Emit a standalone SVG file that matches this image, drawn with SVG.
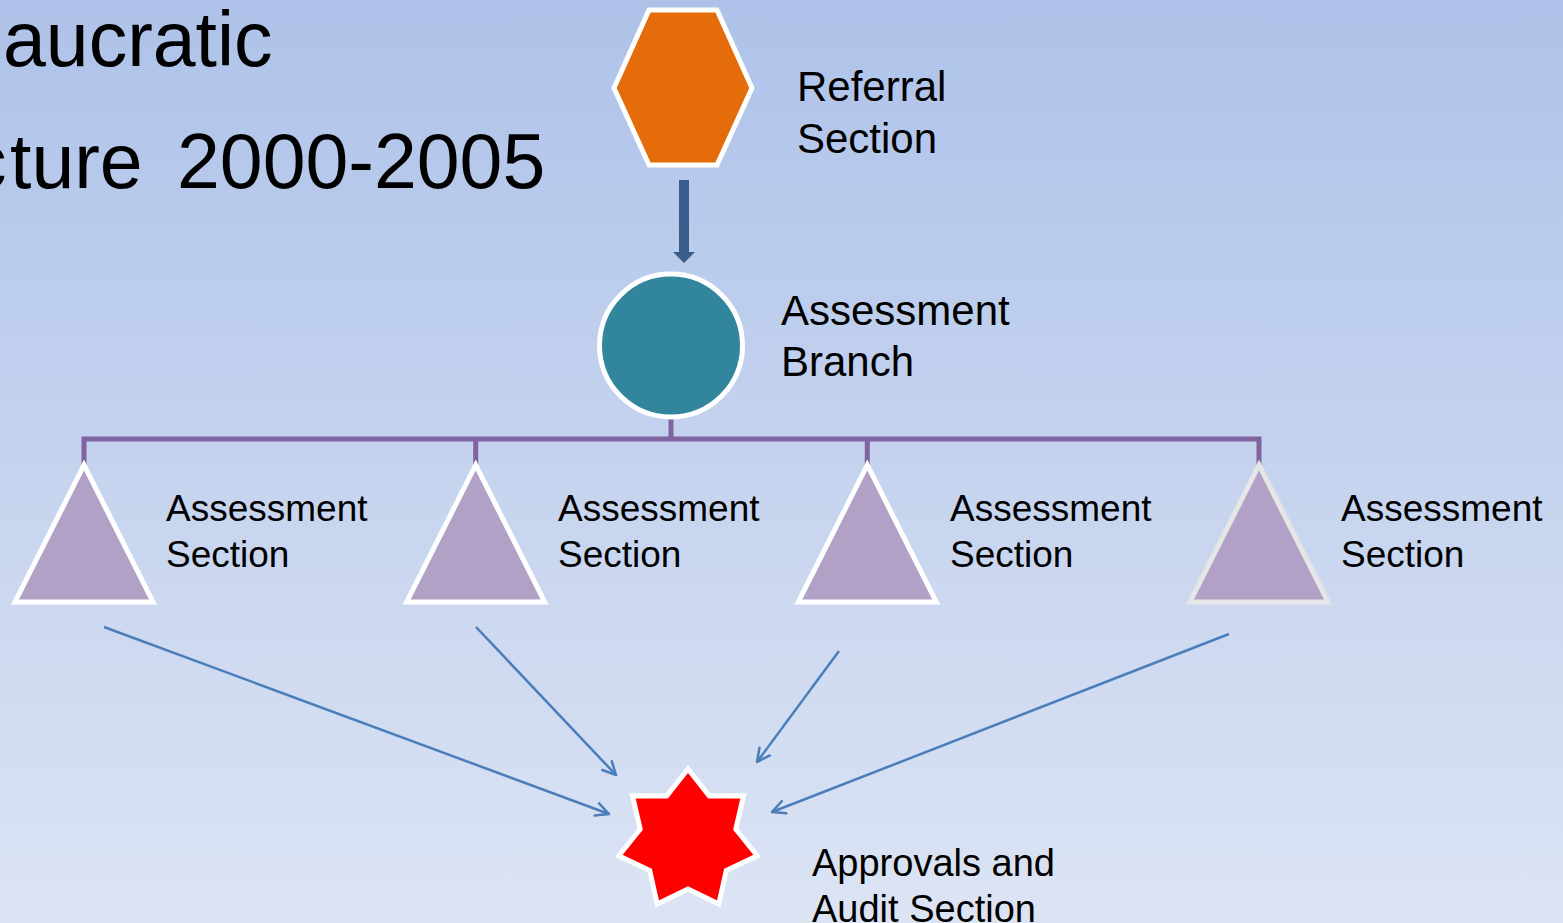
<svg xmlns="http://www.w3.org/2000/svg" width="1563" height="923" viewBox="0 0 1563 923">
<defs>
<linearGradient id="bg" x1="0" y1="0" x2="0" y2="1">
<stop offset="0" stop-color="#AEC2E9"/>
<stop offset="1" stop-color="#DCE4F4"/>
</linearGradient>
<marker id="open" viewBox="0 0 16 16" refX="14" refY="8" markerWidth="16" markerHeight="16" markerUnits="userSpaceOnUse" orient="auto">
<path d="M1,1.5 L14,8 L1,14.5" fill="none" stroke="#4A7EBB" stroke-width="2.5" stroke-linecap="round" stroke-linejoin="round"/>
</marker>
</defs>
<style>
text{font-family:"Liberation Sans",Arial,sans-serif;fill:#000}
.title{font-size:77px}
.lbl{font-size:42px}
.sec{font-size:37px}
.app{font-size:38px}
.tri{fill:#B2A1C7;stroke:#FFFFFF;stroke-width:5;stroke-linejoin:miter}
.bus{fill:none;stroke:#8064A2;stroke-width:5;stroke-linejoin:miter}
.feed{fill:none;stroke:#4A7EBB;stroke-width:2.5;marker-end:url(#open)}
</style>
<rect x="0" y="0" width="1563" height="923" fill="url(#bg)"/>

<g id="title">
<text class="title" x="3" y="66">aucratic</text>
<text class="title" y="188"><tspan x="-32">c</tspan><tspan x="10">ture </tspan><tspan x="177">2000-2005</tspan></text>
</g>

<g id="connectors">
<polygon points="679,180 689,180 689,252 695,252 684,263 673,252 679,252" fill="#385D8A"/>
<path class="bus" d="M671,418 V439 M84,465 V439 H1259 V465 M475.7,465 V439 M867.3,465 V439"/>
<line class="feed" x1="104" y1="627" x2="609" y2="814"/>
<line class="feed" x1="476" y1="627" x2="616" y2="775"/>
<line class="feed" x1="839" y1="651" x2="757" y2="762"/>
<line class="feed" x1="1229" y1="634" x2="772" y2="812"/>
</g>

<g id="referral">
<polygon points="614,88 649,10 717,10 752,88 717,165 649,165" fill="#E46C0A" stroke="#FFFFFF" stroke-width="5"/>
<text class="lbl" x="797" y="101">Referral</text>
<text class="lbl" x="797" y="153">Section</text>
</g>

<g id="branch">
<circle cx="671" cy="345.5" r="71.5" fill="#31859C" stroke="#FFFFFF" stroke-width="5"/>
<text class="lbl" x="781" y="325">Assessment</text>
<text class="lbl" x="781" y="376">Branch</text>
</g>

<g id="section1">
<polygon class="tri" points="84,465 15,602 153,602"/>
<text class="sec" x="166" y="521">Assessment</text>
<text class="sec" x="166" y="567">Section</text>
</g>
<g id="section2">
<polygon class="tri" points="475.7,465 406.7,602 544.7,602"/>
<text class="sec" x="558" y="521">Assessment</text>
<text class="sec" x="558" y="567">Section</text>
</g>
<g id="section3">
<polygon class="tri" points="867.3,465 798.3,602 936.3,602"/>
<text class="sec" x="950" y="521">Assessment</text>
<text class="sec" x="950" y="567">Section</text>
</g>
<g id="section4">
<polygon class="tri" points="1259,465 1190,602 1328,602" style="stroke:#E6E6E6"/>
<text class="sec" x="1341" y="521">Assessment</text>
<text class="sec" x="1341" y="567">Section</text>
</g>

<g id="approvals">
<polygon fill="#FF0000" stroke="#FFFFFF" stroke-width="5" points="688,769 709.3,795.9 743.5,795.7 735.8,829.1 757.2,855.8 726.3,870.6 718.8,904 688,889 657.2,904 649.7,870.6 618.8,855.8 640.2,829.1 632.5,795.7 666.7,795.9"/>
<text class="app" x="812" y="876">Approvals and</text>
<text class="app" x="812" y="922">Audit Section</text>
</g>
</svg>
